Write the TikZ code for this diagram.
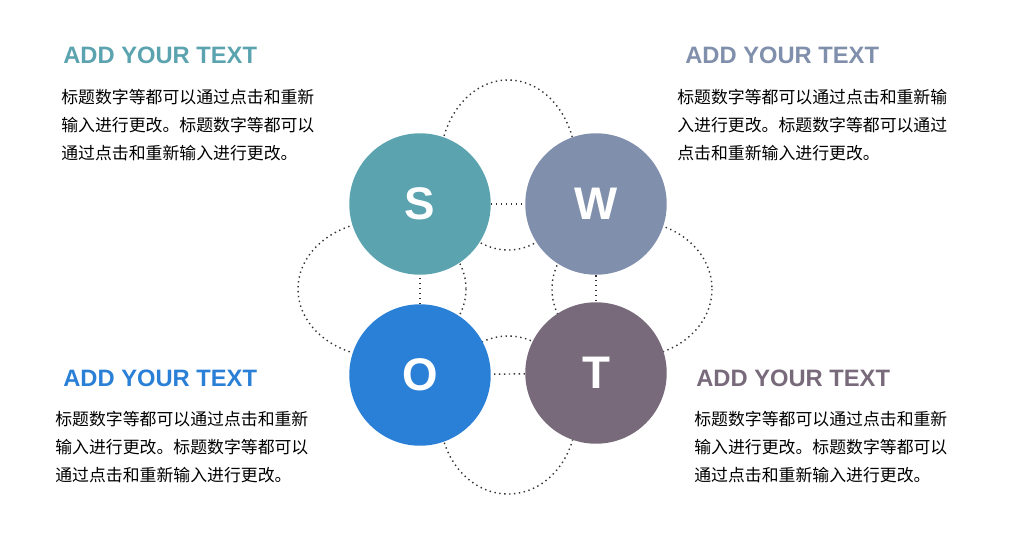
\documentclass[tikz,border=0pt]{standalone}
\usepackage{fontspec}
\setmainfont{Liberation Sans}
\newfontfamily\cjk{Noto Sans CJK SC}
\definecolor{cS}{HTML}{5BA3AF}
\definecolor{cW}{HTML}{808FAB}
\definecolor{cO}{HTML}{2A7FD6}
\definecolor{cT}{HTML}{786A7B}
\tikzset{
  swot/.style = {circle, minimum size=142*0.567pt, inner sep=0pt, text=white, font=\fontsize{26}{26}\selectfont\bfseries},
  orbit/.style = {dotted, thick, black!80},
  title/.style = {anchor=north west, inner sep=0pt, font=\fontsize{13.5}{14}\selectfont\bfseries},
  body/.style = {anchor=north west, inner sep=0pt, align=left, font=\cjk\fontsize{9.6}{16}\selectfont}
}
\begin{document}
\begin{tikzpicture}[x=0.02cm, y=-0.02cm]
  \useasboundingbox (0,0) rectangle (1030,539);
  % dotted orbits
  \draw[orbit] (508,165) ellipse [x radius=68, y radius=85];
  \draw[orbit] (508,415) ellipse [x radius=68, y radius=79];
  \draw[orbit] (382,289) ellipse [x radius=84, y radius=68];
  \draw[orbit] (632,289) ellipse [x radius=80, y radius=68];
  % circles
  \node[swot, fill=cS] (s) at (420,204) {S};
  \node[swot, fill=cW] (w) at (596,204) {W};
  \node[swot, fill=cO] (o) at (420,375) {O};
  \node[swot, fill=cT] (t) at (596,373) {T};
  \draw[orbit] (s) -- (w);
  \draw[orbit] (w) -- (t);
  \draw[orbit] (t) -- (o);
  \draw[orbit] (o) -- (s);
  % texts
  \node[title, text=cS] (h1) at (63,47) {ADD YOUR TEXT};
  \node[body] (b1) at (61,89) {标题数字等都可以通过点击和重新\\输入进行更改。标题数字等都可以\\通过点击和重新输入进行更改。};
  \node[title, text=cW] (h2) at (685,47) {ADD YOUR TEXT};
  \node[body] (b2) at (677,89) {标题数字等都可以通过点击和重新输\\入进行更改。标题数字等都可以通过\\点击和重新输入进行更改。};
  \node[title, text=cO] (h3) at (63,370) {ADD YOUR TEXT};
  \node[body] (b3) at (55,411) {标题数字等都可以通过点击和重新\\输入进行更改。标题数字等都可以\\通过点击和重新输入进行更改。};
  \node[title, text=cT] (h4) at (696,370) {ADD YOUR TEXT};
  \node[body] (b4) at (694,411) {标题数字等都可以通过点击和重新\\输入进行更改。标题数字等都可以\\通过点击和重新输入进行更改。};
\end{tikzpicture}
\end{document}
